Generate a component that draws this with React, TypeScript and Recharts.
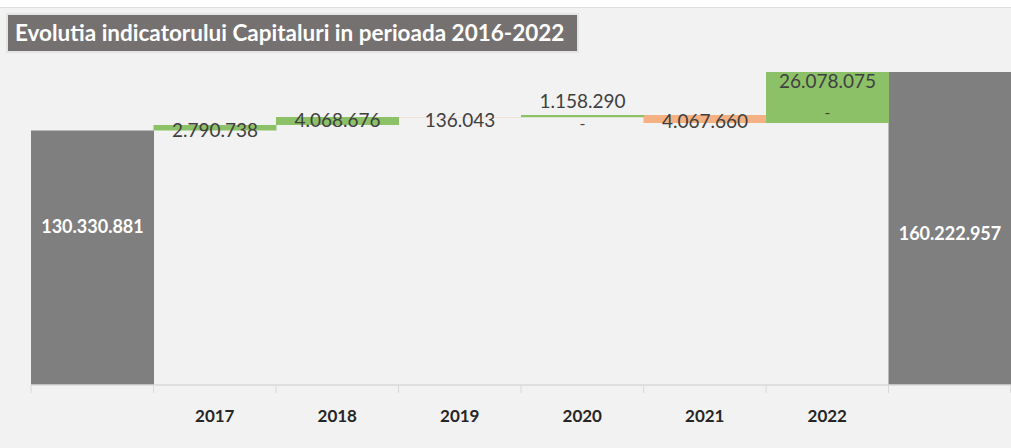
import { Bar, BarChart, LabelList, XAxis, YAxis } from "recharts";

const categories = ["", "2017", "2018", "2019", "2020", "2021", "2022", ""];
const startTotal = 130330881;
const endTotal = 160222957;
// yearly change 2017..2022 (negative = decrease)
const changes = [2790738, 4068676, -136043, 1158290, -4067660, 26078075];
// years where the zero-valued series still shows its "-" label
const dashYears = ["2020", "2022"];

const CHART_W = 1011;
const CHART_H = 440;
const MARGIN = { top: 64, right: 0, left: 31, bottom: 0 };
const BAND = (CHART_W - MARGIN.left - MARGIN.right) / categories.length;

const FONT = "Lato, 'Open Sans', sans-serif";
const GREEN = "#8cc168";
const PEACH = "#f4b183";
const GREY = "#7f7f7f";

// label nudges (px from bar middle), picked to sit where the original labels were dragged
const labelShift = [-32, 2, -1, 2, -16, 2, -17, 4];
const dashShift: Record<string, number> = { "2020": 6, "2022": 14 };

const fmt = (v: number) => Math.round(v).toString().replace(/\B(?=(\d{3})+(?!\d))/g, ".");

type Row = {
  name: string;
  base: number;
  total: number | null;
  up: number | null;
  down: number | null;
  change: number;
};

function buildRows(): Row[] {
  const rows: Row[] = [
    { name: categories[0], base: 0, total: startTotal, up: null, down: null, change: startTotal },
  ];
  let level = startTotal;
  changes.forEach((c, i) => {
    const next = level + c;
    rows.push({
      name: categories[i + 1],
      base: Math.min(level, next),
      total: null,
      up: c >= 0 ? c : null,
      down: c < 0 ? -c : null,
      change: c,
    });
    level = next;
  });
  rows.push({ name: categories[categories.length - 1], base: 0, total: endTotal, up: null, down: null, change: endTotal });
  return rows;
}

const data = buildRows();

// which category a bar sits in, from its x position
const slotOf = (x: any, width: any) =>
  Math.floor((Number(x) + Number(width) / 2 - MARGIN.left) / BAND);

function changeLabel(props: any) {
  const { x, y, width, height } = props;
  const index = slotOf(x, width);
  const row = data[index];
  if (!row) return null;
  const cx = Number(x) + Number(width) / 2;
  const mid = Number(y) + Number(height) / 2;
  const out = [
    <text
      key="v"
      x={cx}
      y={mid + labelShift[index]}
      textAnchor="middle"
      dominantBaseline="central"
      fill="#404040"
      fontFamily={FONT}
      fontSize={19}
    >
      {fmt(Math.abs(row.change))}
    </text>,
  ];
  if (dashYears.includes(row.name)) {
    out.push(
      <text
        key="d"
        x={cx}
        y={mid + dashShift[row.name]}
        textAnchor="middle"
        dominantBaseline="central"
        fill="#404040"
        fontFamily={FONT}
        fontSize={16}
      >
        -
      </text>
    );
  }
  return <g>{out}</g>;
}

function totalLabel(props: any) {
  const { x, y, width, height } = props;
  const index = slotOf(x, width);
  const row = data[index];
  if (!row || row.total == null) return null;
  return (
    <text
      x={Number(x) + Number(width) / 2}
      y={Number(y) + Number(height) / 2 + labelShift[index]}
      textAnchor="middle"
      dominantBaseline="central"
      fill="#ffffff"
      fontFamily={FONT}
      fontWeight={700}
      fontSize={18}
    >
      {fmt(row.total)}
    </text>
  );
}

function YearTick(props: any) {
  const { x, y, payload, index } = props;
  const left = x - BAND / 2;
  const axisY = y - 8;
  return (
    <g>
      <line x1={left} x2={left} y1={axisY} y2={axisY + 8} stroke="#d9d9d9" />
      {index === categories.length - 1 && (
        <line x1={left + BAND - 0.5} x2={left + BAND - 0.5} y1={axisY} y2={axisY + 8} stroke="#d9d9d9" />
      )}
      <text
        x={x}
        y={axisY + 30}
        textAnchor="middle"
        dominantBaseline="central"
        fill="#262626"
        fontFamily={FONT}
        fontWeight={700}
        fontSize={17}
      >
        {payload.value}
      </text>
    </g>
  );
}

export default function App() {
  return (
    <div
      style={{
        position: "absolute",
        left: 0,
        top: 0,
        width: CHART_W,
        height: 448,
        background: "#ffffff",
        overflow: "hidden",
      }}
    >
      <div
        style={{
          position: "absolute",
          left: 0,
          top: 7,
          width: CHART_W,
          height: 441,
          borderTop: "1px solid #dedede",
          background: "#f2f2f2",
        }}
      >
        <BarChart width={CHART_W} height={CHART_H} data={data} margin={MARGIN} barCategoryGap={0}>
          <XAxis
            dataKey="name"
            interval={0}
            height={63}
            tickLine={false}
            axisLine={{ stroke: "#d9d9d9", strokeWidth: 1.5 }}
            tick={<YearTick />}
          />
          <YAxis hide domain={[0, endTotal]} />
          <Bar dataKey="base" stackId="w" fill="transparent" isAnimationActive={false} />
          <Bar dataKey="total" stackId="w" fill={GREY} isAnimationActive={false}>
            <LabelList content={totalLabel} />
          </Bar>
          <Bar dataKey="down" stackId="w" fill={PEACH} isAnimationActive={false}>
            <LabelList content={changeLabel} />
          </Bar>
          <Bar dataKey="up" stackId="w" fill={GREEN} isAnimationActive={false}>
            <LabelList content={changeLabel} />
          </Bar>
        </BarChart>
      </div>
      <div
        style={{
          position: "absolute",
          left: 6,
          top: 13,
          width: 562,
          height: 36,
          background: "#767171",
          border: "2px solid #e4e4e4",
          color: "#ffffff",
          fontFamily: FONT,
          fontWeight: 700,
          fontSize: 22.5,
          lineHeight: "36px",
          paddingLeft: 7,
          whiteSpace: "nowrap",
        }}
      >
        Evolutia indicatorului Capitaluri in perioada 2016-2022
      </div>
    </div>
  );
}
